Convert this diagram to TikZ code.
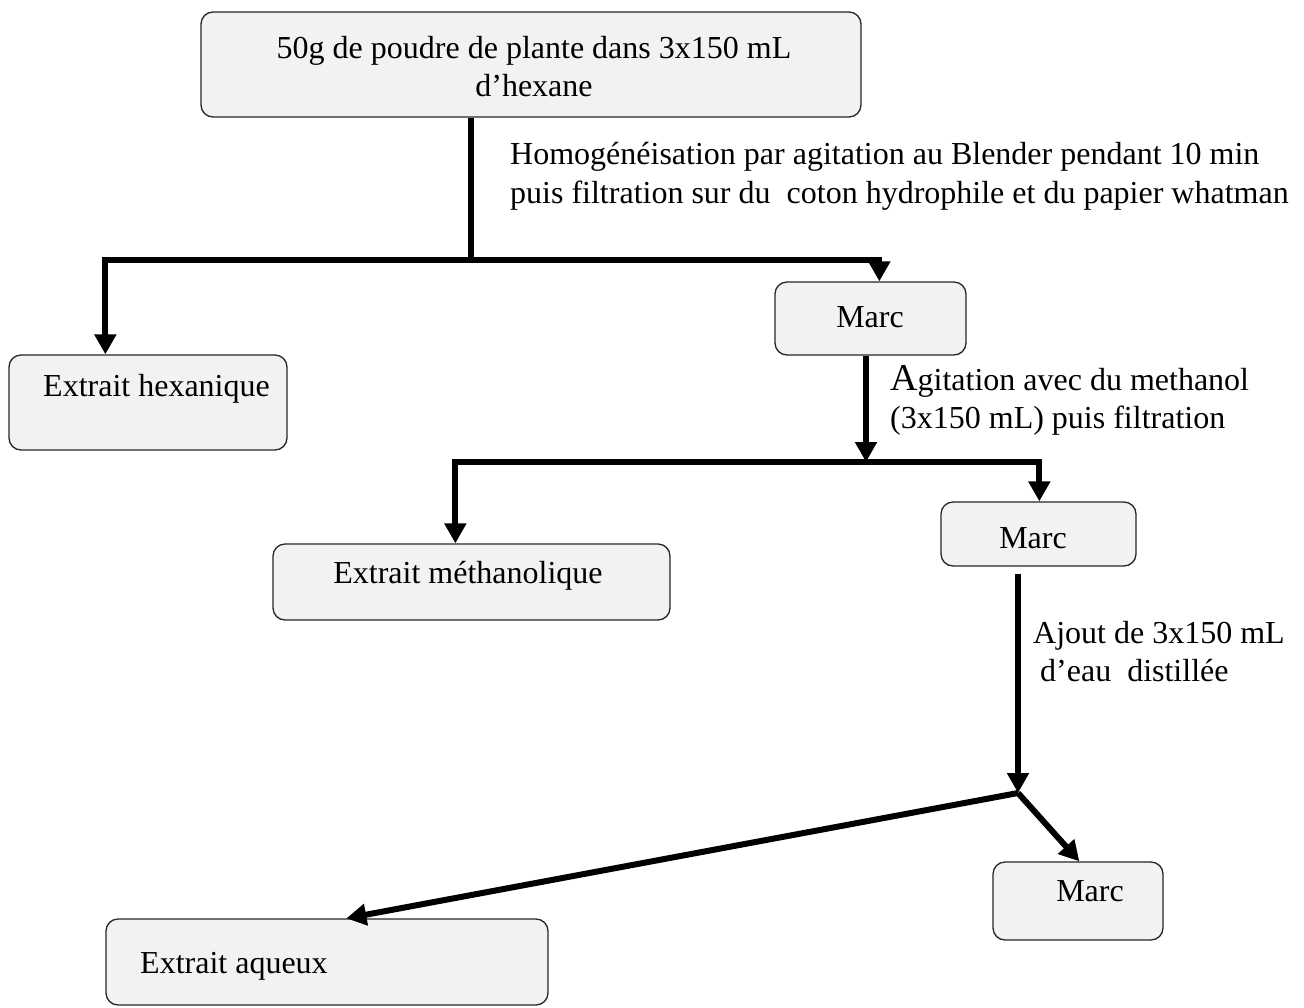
\documentclass[tikz,border=0pt]{standalone}
\usepackage{fontspec}
\setmainfont{Liberation Serif}
\usetikzlibrary{arrows.meta,calc}
\begin{document}
\begin{tikzpicture}[x=1pt,y=-1pt,
  box/.style={draw=black!85, line width=1.3pt, fill=gray!10, rounded corners=12pt, inner sep=0pt},
  txt/.style={inner sep=0pt, font=\fontsize{32}{38}\selectfont},
  lbl/.style={inner sep=0pt, anchor=west, align=left, font=\fontsize{32}{39}\selectfont},
  line/.style={line width=6pt},
  arr/.style={line width=6pt, -{Triangle[width=21pt,length=20pt]}}]
\useasboundingbox (0,0) rectangle (1304,1007);
% boxes
\node[box, minimum width=660pt, minimum height=105pt] (top) at (531,64.5) {};
\node[box, minimum width=278pt, minimum height=95pt] (hex) at (148,402.5) {};
\node[box, minimum width=191pt, minimum height=73pt] (marc1) at (870.5,318.5) {};
\node[box, minimum width=397pt, minimum height=76pt] (meth) at (471.5,582) {};
\node[box, minimum width=195pt, minimum height=64pt] (marc2) at (1038.5,534) {};
\node[box, minimum width=170pt, minimum height=78pt] (marc3) at (1078,901) {};
\node[box, minimum width=442pt, minimum height=86pt] (aq) at (327,962) {};
% texts
\node[txt, align=center] (ttop) at (534,67) {50g de poudre de plante dans 3x150 mL\\d’hexane};
\node[txt, anchor=west] (thex) at (43,389) {Extrait hexanique};
\node[txt] (tm1) at (870,317) {Marc};
\node[txt] (tmeth) at (468,576) {Extrait méthanolique};
\node[txt] (tm2) at (1033,538) {Marc};
\node[txt] (tm3) at (1090,891) {Marc};
\node[txt, anchor=west] (taq) at (140,966) {Extrait aqueux};
\node[lbl] (l1) at (510,176) {Homogénéisation par agitation au Blender pendant 10 min\\puis filtration sur du\ \ coton hydrophile et du papier whatman};
\node[lbl, font=\fontsize{32}{38}\selectfont] (l2) at (890,400) {{\fontsize{38}{38}\selectfont A}gitation avec du methanol\\(3x150 mL) puis filtration};
\node[lbl, font=\fontsize{32}{38}\selectfont] (l3) at (1033,652) {Ajout de 3x150 mL\\\hspace{7pt}d’eau\ \ distillée};
% connectors
\coordinate (j1) at (471,260);
\draw[line] (top.south -| j1) -- (j1);
\draw[arr] (j1) -| ($(hex.north west)+(97,0)$);
\draw[arr] (j1) -| ($(marc1.north west)+(105,0)$);
\coordinate (j2) at (866,462);
\draw[arr] (marc1.south -| j2) -- (j2);
\draw[arr] (j2) -| ($(meth.north west)+(183,0)$);
\draw[arr] (j2) -| ($(marc2.north west)+(99,0)$);
\coordinate (j3) at (1018,793);
\draw[arr] ($(marc2.south -| j3)+(0,7)$) -- (j3);
\draw[arr] (j3) -- ($(marc3.north west)+(87,0)$);
\draw[arr] (j3) -- ($(aq.north west)+(241,0)$);
\end{tikzpicture}
\end{document}
